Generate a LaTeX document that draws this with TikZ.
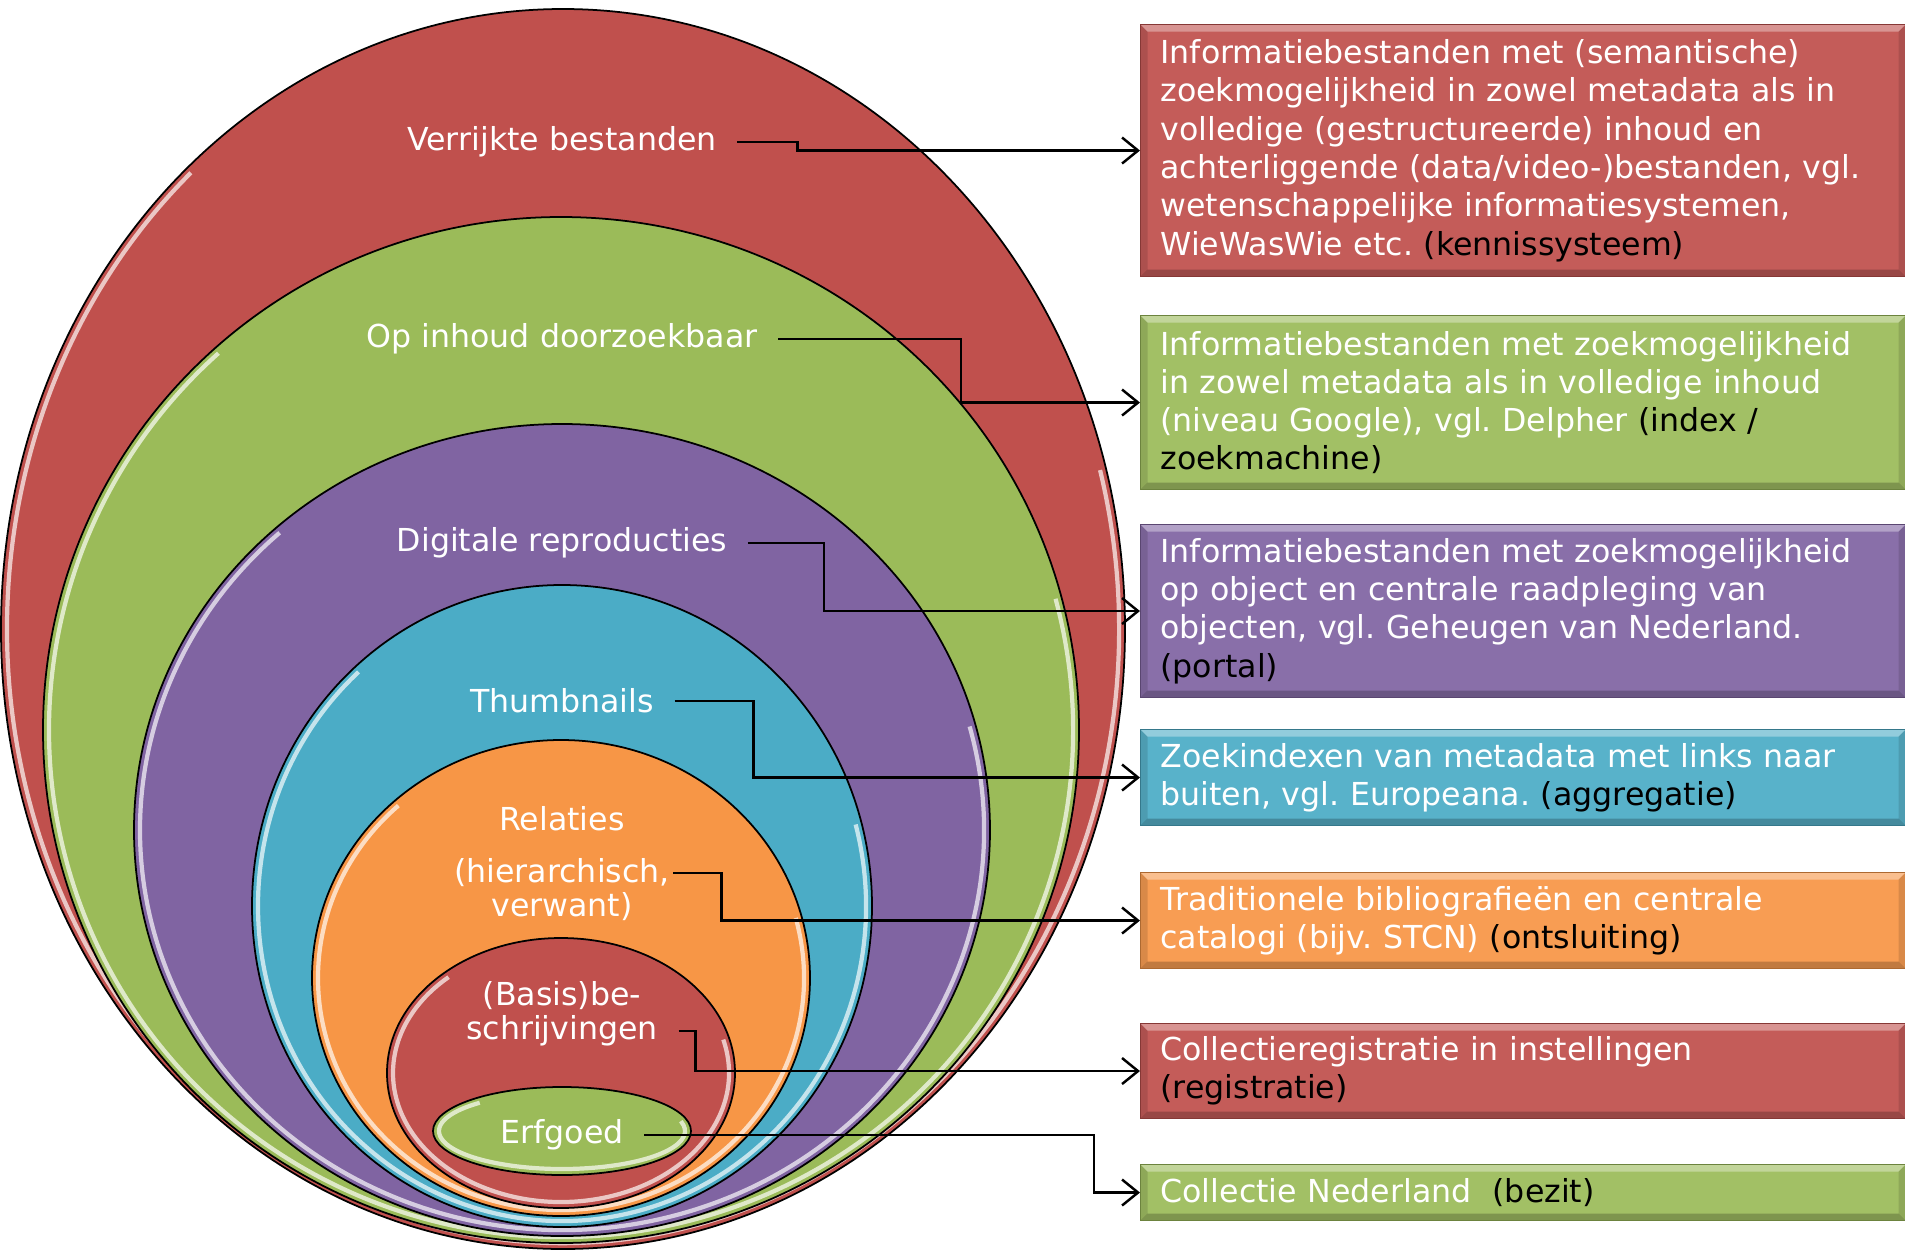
\documentclass[tikz,border=0pt]{standalone}
\usepackage{fontspec}
\setmainfont{DejaVu Sans}
\usetikzlibrary{arrows.meta}

\definecolor{ored}{HTML}{C0504D}
\definecolor{ogreen}{HTML}{9BBB59}
\definecolor{opurple}{HTML}{8064A2}
\definecolor{ocyan}{HTML}{4BACC6}
\definecolor{oorange}{HTML}{F79646}

\begin{document}
\frenchspacing
\begin{tikzpicture}[x=0.1mm, y=-0.1mm,
	lbl/.style={text=white, font=\fontsize{9}{10.9}\selectfont, inner xsep=2mm, inner ysep=0pt},
	infobox/.style={anchor=north west, text=white, font=\fontsize{9}{10.9}\selectfont, align=left,
		text width=72.5mm, inner xsep=2mm, draw=#1!70!black, line width=0.3pt, fill=#1!93!white,
		path picture={
			\fill[white, opacity=.35] (path picture bounding box.north west) -- (path picture bounding box.north east)
				-- ([shift={(-7,7)}]path picture bounding box.north east) -- ([shift={(7,7)}]path picture bounding box.north west) -- cycle;
			\fill[black, opacity=.22] (path picture bounding box.south west) -- (path picture bounding box.south east)
				-- ([shift={(-7,-7)}]path picture bounding box.south east) -- ([shift={(7,-7)}]path picture bounding box.south west) -- cycle;
			\fill[black, opacity=.12] (path picture bounding box.north west) -- ([shift={(7,7)}]path picture bounding box.north west)
				-- ([shift={(7,-7)}]path picture bounding box.south west) -- (path picture bounding box.south west) -- cycle;
			\fill[black, opacity=.12] (path picture bounding box.north east) -- ([shift={(-7,7)}]path picture bounding box.north east)
				-- ([shift={(-7,-7)}]path picture bounding box.south east) -- (path picture bounding box.south east) -- cycle;
		}},
	link/.style={line width=0.7pt, -{Straight Barb[length=1.6mm, width=2.6mm]}}]
	\useasboundingbox (0,0) rectangle (1905,1254);

	% nested ellipses, outer to inner
	\foreach \cx/\cy/\rx/\ry/\col in {563/629/562/620/ored, 561/730/518/513/ogreen, 562/830/428/406/opurple,
		562/906/310/321/ocyan, 561/978/249/238/oorange, 561/1073/174/135/ored, 562/1131/129/44/ogreen}
	{
	\pgfmathsetmacro{\ax}{\rx-6}
	\pgfmathsetmacro{\ay}{\ry-6}
	\draw[fill=\col, line width=0.5pt] (\cx,\cy) ellipse [x radius=\rx, y radius=\ry];
	\draw[\col!15!white, line width=1.2pt, opacity=.8] ([shift={(-15:{\ax} and {\ay})}]\cx,\cy) arc[start angle=-15, end angle=228, x radius=\ax, y radius=\ay];
}

	\node[lbl] (vb) at (562,142) {Verrijkte bestanden};
	\node[lbl] (oi) at (562,339) {Op inhoud doorzoekbaar};
	\node[lbl] (dr) at (562,543) {Digitale reproducties};
	\node[lbl] (th) at (562,701) {Thumbnails};
	\node[lbl] (rl) at (562,819) {Relaties};
	\node[lbl, inner xsep=0.3mm] (hi) at (562,873) {(hierarchisch,};
	\node[lbl] (vw) at (562,907) {verwant)};
	\node[lbl] (bb) at (562,996) {(Basis)be-};
	\node[lbl] (sc) at (562,1031) {schrijvingen};
	\node[lbl] (eg) at (562,1135) {Erfgoed};

	\node[infobox=ored, minimum height=25.2mm] (box1) at (1140,24) {Informatiebestanden met (semantische)\\
		zoekmogelijkheid in zowel metadata als in\\ volledige (gestructureerde) inhoud en\\
		achterliggende (data/video-)bestanden, vgl.\\ wetenschappelijke informatiesystemen,\\
		WieWasWie etc. \textcolor{black}{(kennissysteem)}};
	\node[infobox=ogreen, minimum height=17.4mm] (box2) at (1140,315) {Informatiebestanden met zoekmogelijkheid\\
		in zowel metadata als in volledige inhoud\\ (niveau Google), vgl. Delpher \textcolor{black}{(index /}\\
		\textcolor{black}{zoekmachine)}};
	\node[infobox=opurple, minimum height=17.3mm] (box3) at (1140,524) {Informatiebestanden met zoekmogelijkheid\\
		op object en centrale raadpleging van\\ objecten, vgl. Geheugen van Nederland.\\ \textcolor{black}{(portal)}};
	\node[infobox=ocyan, minimum height=9.6mm] (box4) at (1140,729) {Zoekindexen van metadata met links naar\\
		buiten, vgl. Europeana. \textcolor{black}{(aggregatie)}};
	\node[infobox=oorange, minimum height=9.6mm] (box5) at (1140,872) {Traditionele bibliografieën en centrale\\
		catalogi (bijv. STCN) \textcolor{black}{(ontsluiting)}};
	\node[infobox=ored, minimum height=9.5mm] (box6) at (1140,1023) {Collectieregistratie in instellingen\\
		\textcolor{black}{(registratie)}};
	\node[infobox=ogreen, minimum height=5.6mm] (box7) at (1140,1164) {Collectie Nederland\ \ \textcolor{black}{(bezit)}};

	\draw[link] (vb.east) -- ++(60,0) |- (box1.west);
	\draw[link] (oi.east) -- ++(183,0) |- (box2.west);
	\draw[link] (dr.east) -- ++(76,0) |- (box3.west);
	\draw[link] (th.east) -- ++(79,0) |- (box4.west);
	\draw[link] (hi.east) -- ++(48,0) |- (box5.west);
	\draw[link] (sc.east) -- ++(17,0) |- (box6.west);
	\draw[link] (eg.east) -- ++(450,0) |- (box7.west);

\end{tikzpicture}
\end{document}
